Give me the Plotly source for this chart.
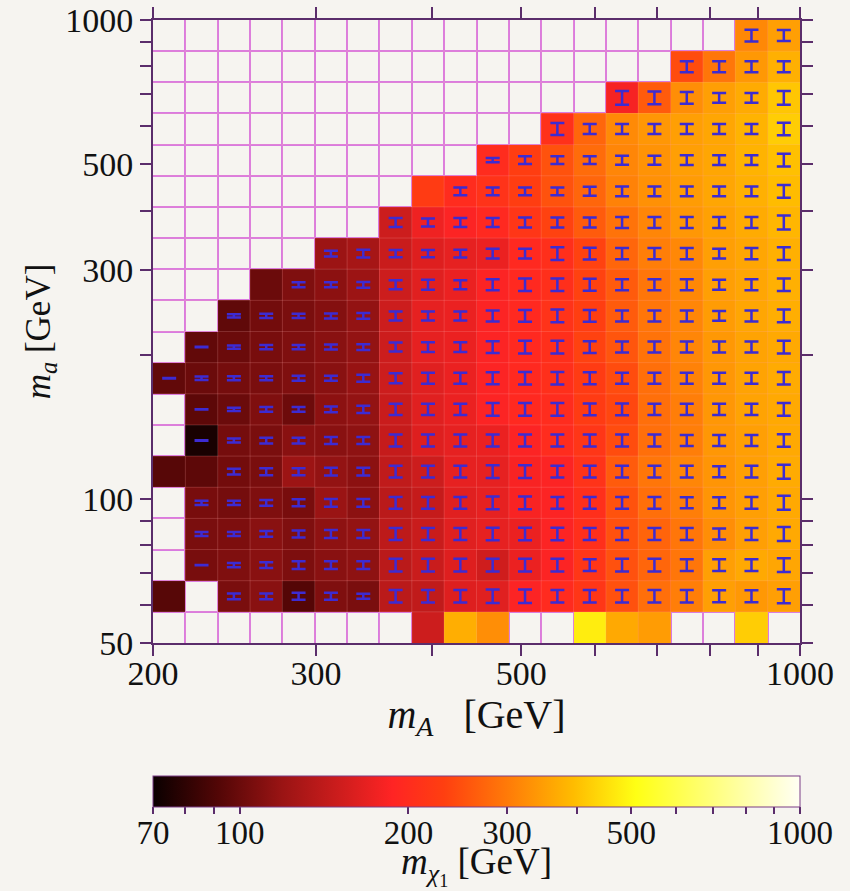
import numpy as np
import plotly.graph_objects as go

# ---------------- data ----------------
MA_MIN, MA_MAX = 200.0, 1000.0     # m_A scan range (x)
Ma_MIN, Ma_MAX = 50.0, 1000.0      # m_a scan range (y)
N_BINS = 20

N = None
# m_chi1 [GeV], rows from lowest m_a bin (bottom) to highest (top), columns from low m_A to high m_A
m_chi1 = [
    [N, N, N, N, N, N, N, N, 150, 372, 325, N, N, 475, 364, 345, N, N, 420, N],
    [93, N, 106, 112, 92, 108, 106, 138, 142, 162, 164, 185, 198, 215, 250, 285, 305, 350, 340, 350],
    [N, 105, 108, 112, 107, 112, 114, 138, 148, 162, 152, 172, 185, 215, 250, 275, 295, 350, 364, 360],
    [N, 106, 107, 112, 108, 114, 116, 140, 148, 164, 168, 172, 185, 205, 250, 272, 295, 325, 350, 364],
    [N, 105, 104, 108, 105, 119, 113, 138, 145, 164, 168, 182, 185, 205, 252, 285, 305, 335, 350, 365],
    [93, 95, 103, 106, 120, 116, 113, 142, 150, 168, 168, 182, 185, 210, 262, 295, 315, 335, 350, 368],
    [N, 74, 104, 106, 112, 112, 114, 145, 162, 168, 172, 185, 200, 215, 245, 285, 305, 338, 350, 364],
    [N, 95, 100, 108, 101, 113, 116, 148, 164, 172, 185, 195, 200, 225, 240, 285, 305, 338, 355, 364],
    [97, 100, 104, 106, 108, 112, 118, 150, 164, 172, 185, 195, 205, 225, 245, 285, 310, 338, 355, 368],
    [N, 97, 100, 105, 108, 112, 116, 150, 168, 172, 185, 195, 205, 235, 255, 290, 315, 340, 355, 364],
    [N, N, 96, 103, 106, 110, 116, 150, 168, 172, 185, 195, 210, 230, 262, 295, 315, 345, 360, 372],
    [N, N, N, 100, 108, 113, 120, 150, 164, 172, 185, 195, 205, 235, 262, 295, 318, 350, 360, 375],
    [N, N, N, N, N, 120, 126, 148, 162, 168, 172, 195, 205, 235, 275, 305, 318, 350, 360, 375],
    [N, N, N, N, N, N, N, 150, 175, 185, 195, 215, 235, 262, 290, 315, 338, 352, 368, 385],
    [N, N, N, N, N, N, N, N, 225, 200, 210, 228, 252, 275, 310, 330, 345, 360, 375, 395],
    [N, N, N, N, N, N, N, N, N, N, 200, 228, 252, 282, 315, 332, 350, 360, 380, 400],
    [N, N, N, N, N, N, N, N, N, N, N, N, 208, 275, 320, 338, 350, 360, 380, 420],
    [N, N, N, N, N, N, N, N, N, N, N, N, N, N, 180, 262, 325, 350, 368, 410],
    [N, N, N, N, N, N, N, N, N, N, N, N, N, N, N, N, 245, 295, 340, 375],
    [N, N, N, N, N, N, N, N, N, N, N, N, N, N, N, N, N, N, 318, 350],
]

# relative uncertainty [%] (half length) drawn as vertical error bars; None = no bar
unc_pct = [
    [N] * 20,
    [N, N, 1.4, 1.4, 1.7, 1.7, 1.2, 3.1, 3.1, 3.1, 3.3, 3.3, 3.1, 3.1, 3.1, 3.1, 3.1, 2.9, 2.9, 3.4],
    [N, 0.1, 1.0, 1.4, 1.9, 1.9, 1.9, 3.1, 3.1, 3.1, 3.1, 3.1, 3.1, 2.9, 3.1, 3.1, 2.9, 2.9, 2.9, 3.4],
    [N, 1.0, 1.0, 1.4, 1.7, 1.9, 1.9, 2.9, 2.9, 2.9, 3.1, 3.1, 3.1, 2.9, 2.9, 2.9, 2.9, 2.7, 2.9, 3.4],
    [N, 1.0, 1.0, 1.4, 1.7, 1.9, 1.9, 2.9, 2.9, 2.9, 3.1, 3.1, 2.9, 2.9, 2.9, 2.9, 2.7, 2.7, 2.9, 3.4],
    [N, N, 1.4, 1.7, 1.7, 1.9, 1.9, 2.9, 2.9, 2.9, 3.1, 3.1, 2.9, 2.9, 2.9, 2.9, 2.9, 2.7, 2.9, 3.4],
    [N, 0.1, 1.0, 1.4, 1.4, 1.7, 1.7, 2.9, 2.9, 2.9, 2.9, 2.9, 2.9, 2.9, 2.9, 2.9, 2.7, 2.7, 2.7, 3.1],
    [N, 0.1, 0.8, 1.2, 1.2, 1.4, 1.7, 2.7, 2.7, 2.7, 3.1, 3.1, 3.1, 2.9, 2.9, 2.7, 2.7, 2.7, 2.7, 3.1],
    [0.1, 0.8, 1.0, 1.0, 1.2, 1.2, 1.7, 2.4, 2.7, 2.7, 2.9, 3.1, 3.1, 2.9, 2.7, 2.7, 2.7, 2.7, 2.7, 3.1],
    [N, 0.1, 0.8, 1.0, 1.0, 1.2, 1.4, 2.2, 2.4, 2.4, 2.9, 3.1, 3.1, 2.9, 2.7, 2.7, 2.7, 2.7, 2.7, 3.1],
    [N, N, 0.8, 1.0, 1.0, 1.2, 1.4, 2.2, 2.2, 2.2, 2.7, 2.9, 3.1, 2.9, 2.7, 2.7, 2.7, 2.4, 2.7, 3.1],
    [N, N, N, N, 1.2, 1.2, 1.4, 2.2, 2.4, 2.2, 2.7, 3.1, 3.1, 2.9, 2.7, 2.7, 2.7, 2.4, 2.7, 3.1],
    [N, N, N, N, N, 1.4, 1.9, 1.7, 1.7, 1.9, 2.4, 2.4, 3.1, 2.9, 2.7, 2.7, 2.7, 2.4, 2.7, 3.1],
    [N, N, N, N, N, N, N, 2.2, 1.9, 2.2, 2.2, 2.4, 2.4, 2.4, 2.7, 2.7, 2.7, 2.7, 2.7, 3.4],
    [N, N, N, N, N, N, N, N, N, 1.9, 1.9, 1.9, 1.9, 2.2, 2.4, 2.4, 2.4, 2.4, 2.4, 3.1],
    [N, N, N, N, N, N, N, N, N, N, 1.0, 1.9, 1.9, 1.9, 2.2, 2.2, 2.4, 2.4, 2.4, 3.1],
    [N, N, N, N, N, N, N, N, N, N, N, N, 2.9, 2.4, 2.4, 2.4, 2.4, 2.4, 2.4, 3.1],
    [N, N, N, N, N, N, N, N, N, N, N, N, N, N, 3.4, 3.1, 2.9, 2.4, 2.4, 3.4],
    [N, N, N, N, N, N, N, N, N, N, N, N, N, N, N, N, 2.7, 2.7, 2.7, 2.7],
    [N, N, N, N, N, N, N, N, N, N, N, N, N, N, N, N, N, N, 2.9, 2.7],
]

x_major = [200, 300, 500, 1000]
x_minor = [400, 600, 700, 800, 900]
y_major = [50, 100, 300, 500, 1000]
y_minor = [60, 70, 80, 90, 200, 400, 600, 700, 800, 900]
cb_major = [70, 100, 200, 300, 500, 1000]
cb_all = [70, 80, 90, 100, 200, 300, 400, 500, 600, 700, 800, 900, 1000]
CB_MIN, CB_MAX = 70.0, 1000.0

# ---------------- styling ----------------
FONT = "Liberation Serif"
AXC = "#5b2d6b"
GRIDC = "#d97ae2"
BG = "#f6f4f0"
BARC = "#3d2bd2"
TXT = "#111111"

hot_scale = [
    [0.0, "#0a0000"], [0.1, "#520606"], [0.2, "#9a1414"], [0.3, "#d41e1e"],
    [0.37, "#ff2424"], [0.45, "#ff3f10"], [0.55, "#ff7c08"], [0.65, "#ffbc00"],
    [0.746, "#ffff14"], [0.86, "#ffff78"], [1.0, "#fffff4"],
]

# layout geometry (pixels)
W, H = 850, 891
M_L, M_R, M_T, M_B = 153, 50, 20, 80
PLOT_BOTTOM = 643                 # bottom edge of the heat map frame
CB_TOP, CB_BOTTOM = 776, 807      # colour bar strip
paper_h = H - M_T - M_B
to_paper = lambda ypix: (H - M_B - ypix) / paper_h

# ---------------- derived ----------------
x_edges = np.geomspace(MA_MIN, MA_MAX, N_BINS + 1)
y_edges = np.geomspace(Ma_MIN, Ma_MAX, N_BINS + 1)
x_cent = np.sqrt(x_edges[:-1] * x_edges[1:])
y_cent = np.sqrt(y_edges[:-1] * y_edges[1:])

Z = np.array([[np.nan if v is None else v for v in row] for row in m_chi1], dtype=float)
logZ = np.log10(Z)

px, py, ep, em = [], [], [], []
for j, row in enumerate(unc_pct):
    for i, e in enumerate(row):
        if e is None:
            continue
        f = 1 + e / 100.0
        px.append(x_cent[i]); py.append(y_cent[j])
        ep.append(y_cent[j] * (f - 1)); em.append(y_cent[j] * (1 - 1 / f))

fig = go.Figure()
fig.add_trace(go.Heatmap(
    x=x_edges, y=y_edges, z=logZ,
    zmin=np.log10(CB_MIN), zmax=np.log10(CB_MAX),
    colorscale=hot_scale, hoverongaps=False,
    customdata=Z, hovertemplate="m_A=%{x:.0f}<br>m_a=%{y:.0f}<br>m_chi1=%{customdata:.0f}<extra></extra>",
    colorbar=dict(
        orientation="h", x=0.5, xanchor="center", y=to_paper(CB_TOP), yanchor="top",
        len=1.0, lenmode="fraction", thickness=CB_BOTTOM - CB_TOP, thicknessmode="pixels",
        xpad=0, ypad=0, outlinewidth=1, outlinecolor="#7a3d85",
        tickmode="array", tickvals=np.log10(cb_all), showticklabels=False,
        ticks="outside", ticklen=7, tickwidth=1.5, tickcolor=AXC,
    ),
))

# faint cell borders on top of the coloured cells
lx, ly = [], []
for xe in x_edges[1:-1]:
    lx += [xe, xe, None]; ly += [Ma_MIN, Ma_MAX, None]
for ye in y_edges[1:-1]:
    lx += [MA_MIN, MA_MAX, None]; ly += [ye, ye, None]
fig.add_trace(go.Scatter(x=lx, y=ly, mode="lines", hoverinfo="skip",
                         line=dict(color="rgba(255,170,170,0.22)", width=1), showlegend=False))

fig.add_trace(go.Scatter(
    x=px, y=py, mode="markers", marker=dict(size=1, color="rgba(0,0,0,0)"),
    error_y=dict(type="data", symmetric=False, array=ep, arrayminus=em,
                 color=BARC, thickness=2.5, width=7),
    hoverinfo="skip", showlegend=False,
))

# empty traces on the helper axes (unlabelled ticks / colour-bar scale labels)
fig.add_trace(go.Scatter(x=[], y=[], xaxis="x2", yaxis="y2", showlegend=False, hoverinfo="skip"))
fig.add_trace(go.Scatter(x=[], y=[], xaxis="x3", yaxis="y3", showlegend=False, hoverinfo="skip"))

tick_style = dict(ticks="outside", ticklen=11, tickwidth=2, tickcolor=AXC,
                  showline=True, linecolor=AXC, linewidth=2, mirror="allticks",
                  showgrid=False, zeroline=False, automargin=False)
xr = [np.log10(MA_MIN), np.log10(MA_MAX)]
yr = [np.log10(Ma_MIN), np.log10(Ma_MAX)]
main_dom = [to_paper(PLOT_BOTTOM), 1.0]

fig.update_layout(
    width=W, height=H,
    margin=dict(l=M_L, r=M_R, t=M_T, b=M_B),
    paper_bgcolor=BG, plot_bgcolor=BG,
    showlegend=False,
    xaxis=dict(**tick_style, type="log", range=xr, anchor="y",
               tickmode="array", tickvals=x_major, ticktext=[str(v) for v in x_major],
               tickfont=dict(family=FONT, size=34, color=TXT), ticklabelstandoff=-12,
               minor=dict(tickmode="array", tickvals=list(x_edges), showgrid=True,
                          gridcolor=GRIDC, gridwidth=1.5, ticks=""),
               title=dict(text="<i>m</i><sub><i>A</i></sub>&nbsp;&nbsp; [GeV]", standoff=4,
                          font=dict(family=FONT, size=40, color=TXT))),
    yaxis=dict(**tick_style, type="log", range=yr, domain=main_dom, anchor="x",
               tickmode="array", tickvals=y_major, ticktext=[str(v) for v in y_major],
               tickfont=dict(family=FONT, size=34, color=TXT),
               minor=dict(tickmode="array", tickvals=list(y_edges), showgrid=True,
                          gridcolor=GRIDC, gridwidth=1.5, ticks=""),
               title=dict(text="<i>m</i><sub><i>a</i></sub> [GeV]", standoff=4,
                          font=dict(family=FONT, size=35, color=TXT))),
    xaxis2=dict(**tick_style, type="log", range=xr, overlaying="x", anchor="y2", side="bottom",
                tickmode="array", tickvals=x_minor, showticklabels=False),
    yaxis2=dict(**tick_style, type="log", range=yr, overlaying="y", anchor="x2", side="left",
                domain=main_dom, tickmode="array", tickvals=y_minor, showticklabels=False),
    # scale labels of the colour bar
    xaxis3=dict(type="log", range=[np.log10(CB_MIN), np.log10(CB_MAX)], anchor="y3", side="bottom",
                tickmode="array", tickvals=cb_major, ticktext=[str(v) for v in cb_major],
                ticks="", showline=False, showgrid=False, zeroline=False, automargin=False,
                tickfont=dict(family=FONT, size=33, color=TXT), ticklabelstandoff=3,
                title=dict(text="<i>m</i><sub><i>χ</i><sub>1</sub></sub> [GeV]", standoff=0,
                           font=dict(family=FONT, size=37, color=TXT))),
    yaxis3=dict(domain=[to_paper(CB_BOTTOM), to_paper(CB_TOP)], anchor="x3", visible=False,
                range=[0, 1]),
)

fig.write_html("out.html", config={"displayModeBar": False}, post_script=[
    "document.body.style.margin='0'; document.body.style.background='%s';" % BG])
